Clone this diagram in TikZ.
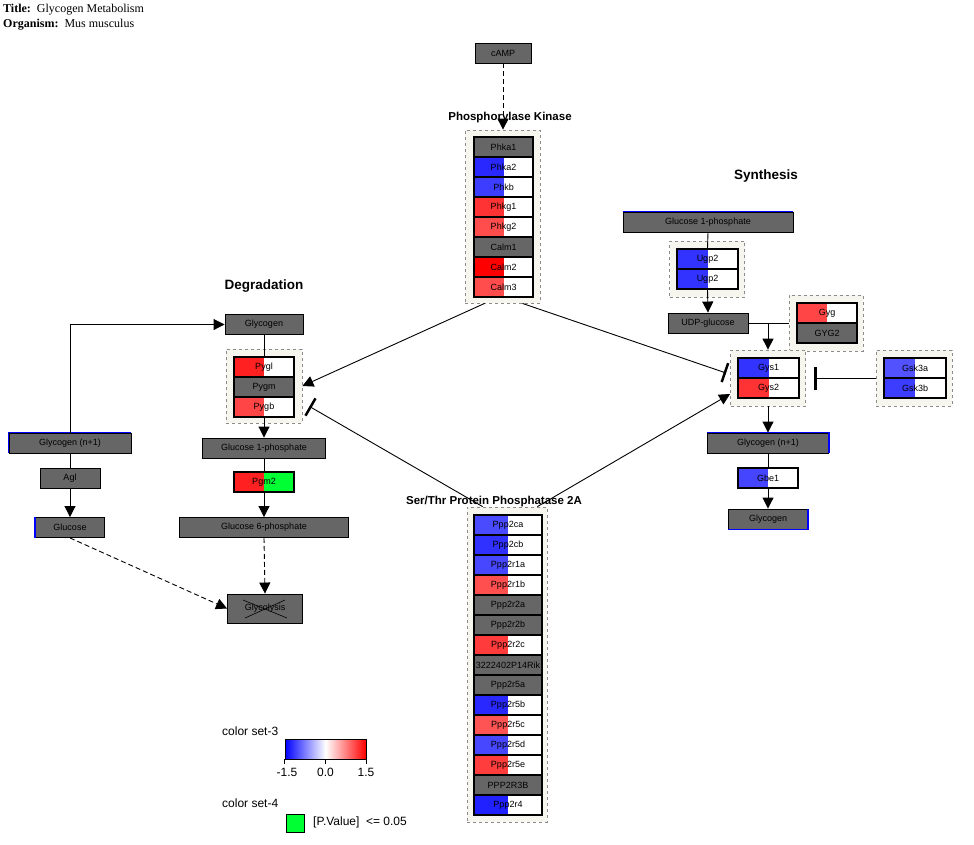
\documentclass[tikz,border=0pt]{standalone}
\usepackage{fontspec}
\setmainfont{Liberation Sans}
\newfontfamily\titlefont{Liberation Serif}
\usetikzlibrary{positioning,arrows.meta}
\definecolor{grpfill}{HTML}{F6F5EE}
\definecolor{pgreen}{HTML}{00FF33}
\definecolor{nodata}{HTML}{666666}

\begin{document}
\begin{tikzpicture}
        [
        x=1pt, y=-1pt,
        every node/.style={font=\fontsize{9}{10}\selectfont, inner sep=0pt},
        met/.style={draw, line width=0.9pt, fill=nodata, minimum height=20pt},
        genebox/.style 2 args={draw, line width=1.1pt, fill=#2, minimum height=20pt,
            path picture={\fill[#1] (path picture bounding box.south west) rectangle (path picture bounding box.north);}},
        grp/.style={draw=black!45, dashed, line width=0.8pt, fill=grpfill},
        grptitle/.style={font=\fontsize{11.5}{13}\selectfont\bfseries},
        sect/.style={font=\fontsize{13.5}{16}\selectfont\bfseries},
        legend/.style={font=\fontsize{12}{14}\selectfont},
        act/.style={line width=0.9pt, -{Triangle[length=11pt,width=11pt]}},
        inh/.style={line width=0.9pt, -{Bar[width=20pt,line width=2.5pt]}},
        dsh/.style={dash pattern=on 5pt off 3pt}
        ]
        \useasboundingbox (0,0) rectangle (974,844);

        % Title
        \node[anchor=west, font=\titlefont\fontsize{12}{14}\selectfont] (title) at (3,10) {\textbf{Title:}~~Glycogen Metabolism};
        \node[anchor=west, font=\titlefont\fontsize{12}{14}\selectfont] (organism) at (3,25) {\textbf{Organism:}~~Mus musculus};

        % Groups
        \node[grp, minimum width=75pt, minimum height=173pt] (phkgrp) at (502.5,216.5) {};
        \node[grp, minimum width=80pt, minimum height=315pt] (ppgrp) at (507,664.5) {};
        \node[grp, minimum width=75pt, minimum height=56pt] (ugpgrp) at (707,269) {};
        \node[grp, minimum width=74pt, minimum height=56pt] (gyggrp) at (826,323) {};
        \node[grp, minimum width=75pt, minimum height=56pt] (gysgrp) at (768,378) {};
        \node[grp, minimum width=76pt, minimum height=56pt] (gskgrp) at (914,378) {};
        \node[grp, minimum width=76pt, minimum height=74pt] (pyggrp) at (264,386) {};

        % Group titles
        \node[grptitle] (phktitle) at (510,118) {Phosphorylase Kinase};
        \node[grptitle] (pptitle) at (494,502) {Ser/Thr Protein Phosphatase 2A};
        \node[sect] (syntitle) at (766,176) {Synthesis};
        \node[sect] (degtitle) at (264,286) {Degradation};

        % Phosphorylase kinase
        \foreach \lbl/\cl/\cr [count=\i] in {Phka1/nodata/nodata, Phka2/blue!84/white, Phkb/blue!76/white,
            Phkg1/red!80/white, Phkg2/red!70/white, Calm1/nodata/nodata, Calm2/red/white, Calm3/red!70/white}
            \node[genebox={\cl}{\cr}, minimum width=59pt] (phk-\i) at (503.5,127+20*\i) {\lbl};

        % Protein phosphatase 2A
        \foreach \lbl/\cl/\cr [count=\i] in {Ppp2ca/blue!71/white, Ppp2cb/blue!81/white, Ppp2r1a/blue!72/white,
            Ppp2r1b/red!69/white, Ppp2r2a/nodata/nodata, Ppp2r2b/nodata/nodata, Ppp2r2c/red!77/white,
            3222402P14Rik/nodata/nodata, Ppp2r5a/nodata/nodata, Ppp2r5b/blue!84/white, Ppp2r5c/red!67/white,
            Ppp2r5d/blue!72/white, Ppp2r5e/red!76/white, PPP2R3B/nodata/nodata, Ppp2r4/blue!87/white}
            \node[genebox={\cl}{\cr}, minimum width=68pt] (pp-\i) at (508,505+20*\i) {\lbl};

        % Synthesis
        \foreach \lbl/\cl/\cr [count=\i] in {Ugp2/blue!80/white, Ugp2/blue!80/white}
            \node[genebox={\cl}{\cr}, minimum width=61pt] (ugp-\i) at (707.5,239+20*\i) {\lbl};
        \foreach \lbl/\cl/\cr [count=\i] in {Gyg/red!73/white, GYG2/nodata/nodata}
            \node[genebox={\cl}{\cr}, minimum width=60pt] (gyg-\i) at (827,293+20*\i) {\lbl};
        \foreach \lbl/\cl/\cr [count=\i] in {Gys1/blue!80/white, Gys2/red!80/white}
            \node[genebox={\cl}{\cr}, minimum width=61pt] (gys-\i) at (768.5,348+20*\i) {\lbl};
        \foreach \lbl/\cl/\cr [count=\i] in {Gsk3a/blue!68/white, Gsk3b/blue!76/white}
            \node[genebox={\cl}{\cr}, minimum width=62pt] (gsk-\i) at (915,348+20*\i) {\lbl};

        \node[met, minimum width=170pt] (g1ps) at (708,222) {Glucose 1-phosphate};
        \node[met, minimum width=80pt] (udpg) at (708,323) {UDP-glucose};
        \node[met, minimum width=121pt] (gn1s) at (768,443) {Glycogen (n+1)};
        \node[genebox={blue!73}{white}, minimum width=60pt] (gbe1) at (768,478) {Gbe1};
        \node[met, minimum width=79pt] (glycs) at (768,519) {Glycogen};
        \draw[blue, line width=1.5pt] (g1ps.north west) -- (g1ps.north east);
        \draw[blue, line width=1.2pt] (gn1s.north west) -- (gn1s.north east) -- (gn1s.south east);
        \draw[blue, line width=1.2pt] (glycs.north east) -- (glycs.south east) -- (glycs.south west);

        % Degradation
        \foreach \lbl/\cl/\cr [count=\i] in {Pygl/red!87/white, Pygm/nodata/nodata, Pygb/red!73/white}
            \node[genebox={\cl}{\cr}, minimum width=60pt] (pyg-\i) at (264,347+20*\i) {\lbl};

        \node[met, minimum width=78pt] (glycd) at (264,324.5) {Glycogen};
        \node[met, minimum width=123pt] (g1pd) at (264,448) {Glucose 1-phosphate};
        \node[genebox={red!87}{pgreen}, minimum width=60pt] (pgm2) at (264,482) {Pgm2};
        \node[met, minimum width=169pt] (g6p) at (264,527.5) {Glucose 6-phosphate};
        \node[met, minimum width=75pt, minimum height=29pt] (glyco) at (265,608.5) {Glycolysis};
        \draw[line width=0.6pt] (243,600) -- (287,618) (245,618) -- (285,600);

        \node[met, minimum width=122pt] (gn1d) at (70,443) {Glycogen (n+1)};
        \node[met, minimum width=60pt] (agl) at (70,478) {Agl};
        \node[met, minimum width=69pt] (gluc) at (70,527.5) {Glucose};
        \draw[blue, line width=1.2pt] (gn1d.south west) -- (gn1d.north west) -- (gn1d.north east);
        \draw[blue, line width=1.2pt] (gluc.south west) -- (gluc.north west);

        % cAMP
        \node[met, minimum width=56pt] (camp) at (503,53) {cAMP};

        % Connectors
        \draw[act, dsh] (camp.south) -- (camp.south |- phkgrp.north);
        \draw[act] ([xshift=20pt]phkgrp.south west) -- (pyggrp.east);
        \draw[inh] ([xshift=-18pt]phkgrp.south east) -- ([xshift=-4pt,yshift=5pt]gysgrp.west);
        \draw[inh] ([xshift=16pt]ppgrp.north west) -- ([xshift=7pt,yshift=17pt]pyggrp.south east);
        \draw[act] ([xshift=-10pt]ppgrp.north east) -- ([yshift=-16pt]gysgrp.west);

        \draw[line width=0.9pt] (g1ps.south) -- (ugp-1.north);
        \draw[act] (ugp-2.south) -- (udpg.north);
        \coordinate (udpj) at (gysgrp.north |- udpg.east);
        \draw[line width=0.9pt] (udpg.east) -- (gyggrp.west);
        \draw[act] (udpj) -- (gysgrp.north);
        \draw[line width=0.9pt, -{Bar[width=23pt,line width=3pt]}] (gskgrp.west) -- ([xshift=8pt]gysgrp.east);
        \draw[act] (gysgrp.south) -- (gn1s.north);
        \draw[line width=0.9pt] (gn1s.south) -- (gbe1.north);
        \draw[act] (gbe1.south) -- (glycs.north);

        \draw[line width=0.9pt] (glycd.south) -- (pyg-1.north);
        \draw[act] (pyg-3.south) -- (g1pd.north);
        \draw[line width=0.9pt] (g1pd.south) -- (pgm2.north);
        \draw[act] (pgm2.south) -- (g6p.north);
        \draw[act, dsh] (g6p.south) -- (glyco.north);
        \draw[act] (gn1d.north) |- (glycd.west);
        \draw[line width=0.9pt] (gn1d.south) -- (agl.north);
        \draw[act] (agl.south) -- (gluc.north);
        \draw[act, dsh] (gluc.south) -- (glyco.west);

        % Legend
        \node[legend, anchor=west] (set3) at (222,731) {color set-3};
        \node[draw, line width=0.8pt, minimum width=81pt, minimum height=20pt,
            left color=blue, right color=red, middle color=white] (scale) at (325.5,749) {};
        \draw[line width=0.8pt] (scale.south west) -- ++(0,5) (scale.south) -- ++(0,5) (scale.south east) -- ++(0,5);
        \node[legend] (lo) at (287,772) {-1.5};
        \node[legend] (mid) at (325.5,772) {0.0};
        \node[legend] (hi) at (366,772) {1.5};
        \node[legend, anchor=west] (set4) at (222,803) {color set-4};
        \node[draw, line width=0.8pt, fill=pgreen, minimum size=18pt] (pbox) at (295.5,823) {};
        \node[legend, anchor=west] (pval) at (313,822) {[P.Value]~~<= 0.05};
\end{tikzpicture}
\end{document}
